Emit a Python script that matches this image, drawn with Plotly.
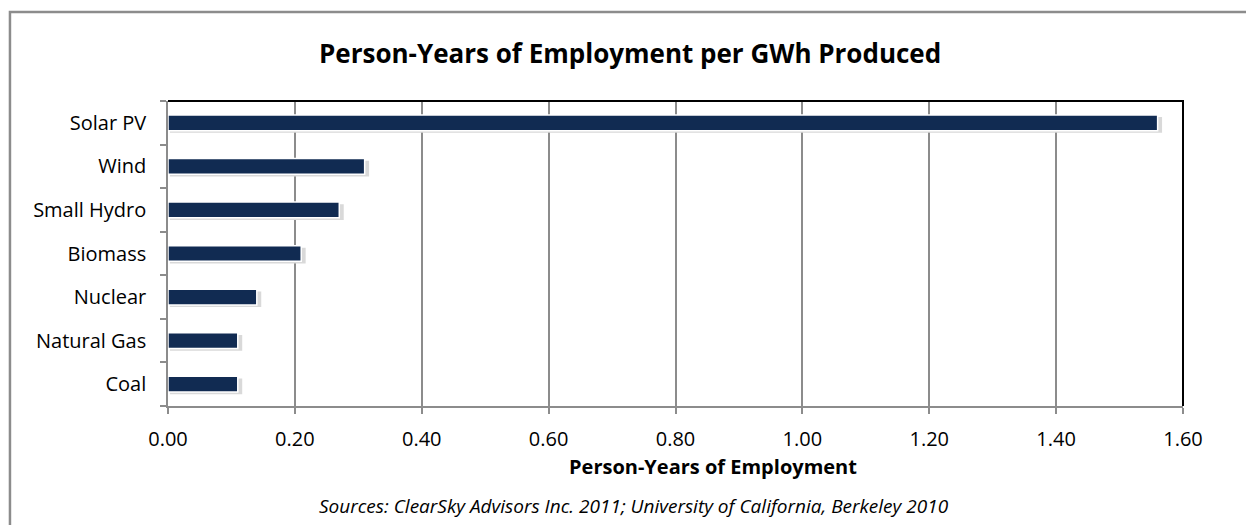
import plotly.graph_objects as go

sources = ["Solar PV", "Wind", "Small Hydro", "Biomass", "Nuclear", "Natural Gas", "Coal"]
person_years = [1.56, 0.31, 0.27, 0.21, 0.14, 0.11, 0.11]
x_ticks = [0.0, 0.2, 0.4, 0.6, 0.8, 1.0, 1.2, 1.4, 1.6]
x_tick_labels = ["%.2f" % v for v in x_ticks]

font = "Open Sans, sans-serif"
bar_col = "#112b52"
grid_col = "#8c8c8c"

fig = go.Figure()
# soft shadow behind each bar
fig.add_trace(go.Bar(
    y=sources, x=[v + 0.004 for v in person_years], orientation="h",
    marker=dict(color="#d9d9d9", line=dict(width=0)),
    width=0.36, offset=-0.23, base=0.003, hoverinfo="skip",
))
fig.add_trace(go.Bar(
    y=sources, x=person_years, orientation="h",
    marker=dict(color=bar_col, line=dict(color="white", width=1.5)),
    width=0.36, offset=-0.18,
))

fig.update_layout(
    width=1246, height=517,
    margin=dict(l=160, r=71, t=93, b=119),
    paper_bgcolor="white", plot_bgcolor="white",
    font=dict(family=font, size=20, color="black"),
    showlegend=False,
    barmode="overlay",
)
fig.update_xaxes(
    range=[0, 1.6], tickvals=x_ticks, ticktext=x_tick_labels,
    showgrid=True, gridcolor=grid_col, gridwidth=1.5,
    showline=True, linecolor=grid_col, linewidth=1.5,
    ticks="outside", ticklen=6, tickcolor=grid_col, tickwidth=1.5,
    zeroline=False, tickfont=dict(size=20), ticklabelstandoff=8,
)
fig.update_yaxes(
    categoryorder="array", categoryarray=sources[::-1],
    showline=True, linecolor=grid_col, linewidth=1.5,
    ticks="outside", ticklen=6, tickcolor=grid_col, tickwidth=1.5,
    tickson="boundaries", showgrid=False, tickfont=dict(size=20),
    ticklabelstandoff=16,
)

# black frame on top/right of plot area
fig.add_shape(type="path", xref="paper", yref="paper",
              path="M 0 1 L 1 1 L 1 0", line=dict(color="black", width=2))
# outer gray frame (left/top)
fig.add_shape(type="path", xref="paper", yref="paper",
              path="M -0.1557 -0.39 L -0.1557 1.292 L 1.08 1.292",
              line=dict(color="#8c8c8c", width=2.5))

fig.add_annotation(text="<b>Person-Years of Employment per GWh Produced</b>",
                   xref="paper", yref="paper", x=0.455, y=1.157, showarrow=False,
                   xanchor="center", yanchor="middle", font=dict(size=26))
fig.add_annotation(text="<b>Person-Years of Employment</b>",
                   xref="paper", yref="paper", x=0.537, y=-0.197, showarrow=False,
                   xanchor="center", yanchor="middle", font=dict(size=20))
fig.add_annotation(text="<i>Sources: ClearSky Advisors Inc. 2011; University of California, Berkeley 2010</i>",
                   xref="paper", yref="paper", x=0.459, y=-0.328, showarrow=False,
                   xanchor="center", yanchor="middle", font=dict(size=19))

fig.write_html("out.html")
